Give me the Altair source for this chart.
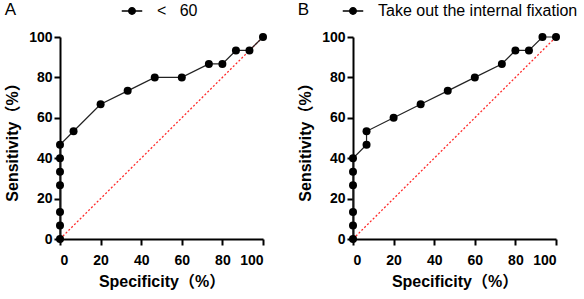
import altair as alt
import pandas as pd

# Panel A: "< 60"
a_spec = [0, 0, 0, 0, 0, 0, 0, 6.67, 20, 33.33, 46.67, 60, 73.33, 80, 86.67, 93.33, 100]
a_sens = [0, 6.67, 13.33, 26.67, 33.33, 40, 46.67, 53.33, 66.67, 73.33, 80, 80, 86.67, 86.67, 93.33, 93.33, 100]
# Panel B: "Take out the internal fixation"
b_spec = [0, 0, 0, 0, 0, 0, 6.67, 6.67, 20, 33.33, 46.67, 60, 73.33, 80, 86.67, 93.33, 100]
b_sens = [0, 6.67, 13.33, 26.67, 33.33, 40, 46.67, 53.33, 60, 66.67, 73.33, 80, 86.67, 93.33, 93.33, 100, 100]
diag_vals = [0, 100]
ticks = [0, 20, 40, 60, 80, 100]

FONT = "Liberation Sans, Arial, Noto Sans CJK SC"
SYMBOL = "M-1,0H1M0.32,0A0.32,0.32 0 1,1 -0.32,0A0.32,0.32 0 1,1 0.32,0Z"


def panel(spec, sens, label, letter, lx):
    df = pd.DataFrame({"spec": spec, "sens": sens, "i": list(range(len(spec))), "series": label})
    ddf = pd.DataFrame({"spec": diag_vals, "sens": diag_vals})
    xs = alt.Scale(domain=[0, 100], nice=False)
    ys = alt.Scale(domain=[0, 100], nice=False)
    xenc = alt.X("spec:Q", scale=xs, title="Specificity（%）",
                 axis=alt.Axis(values=ticks, labelPadding=8, titlePadding=6))
    yenc = alt.Y("sens:Q", scale=ys, title="Sensitivity（%）",
                 axis=alt.Axis(values=ticks, labelPadding=2, titlePadding=8))
    diag = alt.Chart(ddf).mark_line(color="#ff2a2a", strokeWidth=1.3, strokeDash=[2, 2]).encode(x=xenc, y=yenc)
    line = alt.Chart(df).mark_line(color="#222222", strokeWidth=1.2).encode(x=xenc, y=yenc, order="i:Q")
    pts = alt.Chart(df).mark_circle(size=64, opacity=1).encode(
        x=xenc, y=yenc,
        color=alt.Color("series:N", scale=alt.Scale(domain=[label], range=["black"]),
                        legend=alt.Legend(title=None, orient="none", legendX=lx, legendY=-37,
                                          symbolType=SYMBOL, symbolSize=420,
                                          symbolStrokeWidth=1.4, symbolStrokeColor="black",
                                          symbolFillColor="black",
                                          labelFontSize=16, labelFont=FONT, labelColor="black",
                                          labelOffset=14, labelLimit=0)))
    return alt.layer(diag, line, pts).properties(
        width=203, height=202,
        title=alt.TitleParams(letter, anchor="start", frame="bounds", fontSize=17,
                              font=FONT, fontWeight="normal", color="black", offset=-19),
    )


pa = panel(a_spec, a_sens, "<\u00a0\u00a0 60", "A", 61)
pb = panel(b_spec, b_sens, "Take out the internal fixation", "B", -11)

chart = alt.hconcat(pa, pb, spacing=30).resolve_scale(color="independent").resolve_legend(color="independent").configure_view(
    stroke=None
).configure_axis(
    grid=False, domainColor="black", domainWidth=2, tickColor="black", tickWidth=2, tickSize=6,
    labelFont=FONT, labelFontSize=14, labelFontWeight="bold", labelColor="black",
    titleFont=FONT, titleFontSize=16, titleFontWeight="bold", titleColor="black",
).properties(
    padding={"left": 4, "top": 0, "right": 5, "bottom": 5}, background="white"
)

chart.save("out.html", embed_options={"renderer": "svg", "actions": False})
